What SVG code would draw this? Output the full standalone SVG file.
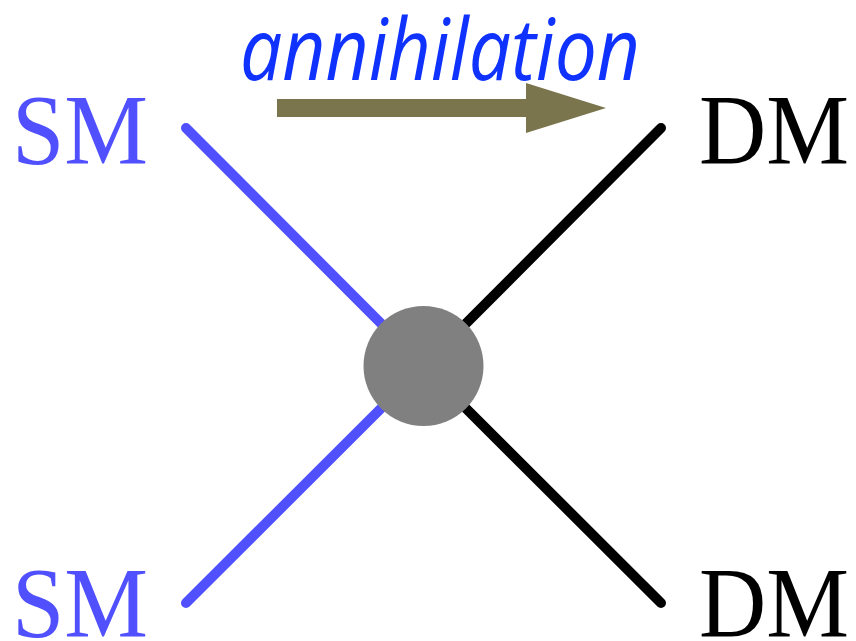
<svg xmlns="http://www.w3.org/2000/svg" width="856" height="641" viewBox="0 0 856 641">
<style>
.lbl{font-family:"Liberation Serif","Times New Roman",serif;font-size:100px}
.sm{fill:#5050ff}
.dm{fill:#000}
.ln{stroke-width:10;stroke-linecap:round;fill:none}
</style>
<rect width="856" height="641" fill="#fff"/>
<g id="connectors">
<line class="ln" x1="186" y1="128" x2="423.5" y2="366" stroke="#5050ff"/>
<line class="ln" x1="186" y1="603" x2="423.5" y2="366" stroke="#5050ff"/>
<line class="ln" x1="661" y1="128" x2="423.5" y2="366" stroke="#000"/>
<line class="ln" x1="661" y1="603" x2="423.5" y2="366" stroke="#000"/>
</g>
<g id="vertex"><circle cx="423.5" cy="366" r="60" fill="#808080"/></g>
<g id="sm-top"><text class="lbl sm" x="12" y="163" textLength="136" lengthAdjust="spacingAndGlyphs">SM</text></g>
<g id="sm-bottom"><text class="lbl sm" x="12" y="636" textLength="136" lengthAdjust="spacingAndGlyphs">SM</text></g>
<g id="dm-top"><text class="lbl dm" x="699" y="163" textLength="150" lengthAdjust="spacingAndGlyphs">DM</text></g>
<g id="dm-bottom"><text class="lbl dm" x="699" y="636" textLength="150" lengthAdjust="spacingAndGlyphs">DM</text></g>
<g id="annihilation">
<text x="240" y="80" font-family="'Open Sans','Noto Sans',sans-serif" font-style="italic" font-size="86" fill="#1032ff" textLength="400" lengthAdjust="spacingAndGlyphs">annihilation</text>
<polygon points="277,99 526,99 526,83 606,108 526,133 526,117 277,117" fill="#7a754d"/>
</g>
</svg>
